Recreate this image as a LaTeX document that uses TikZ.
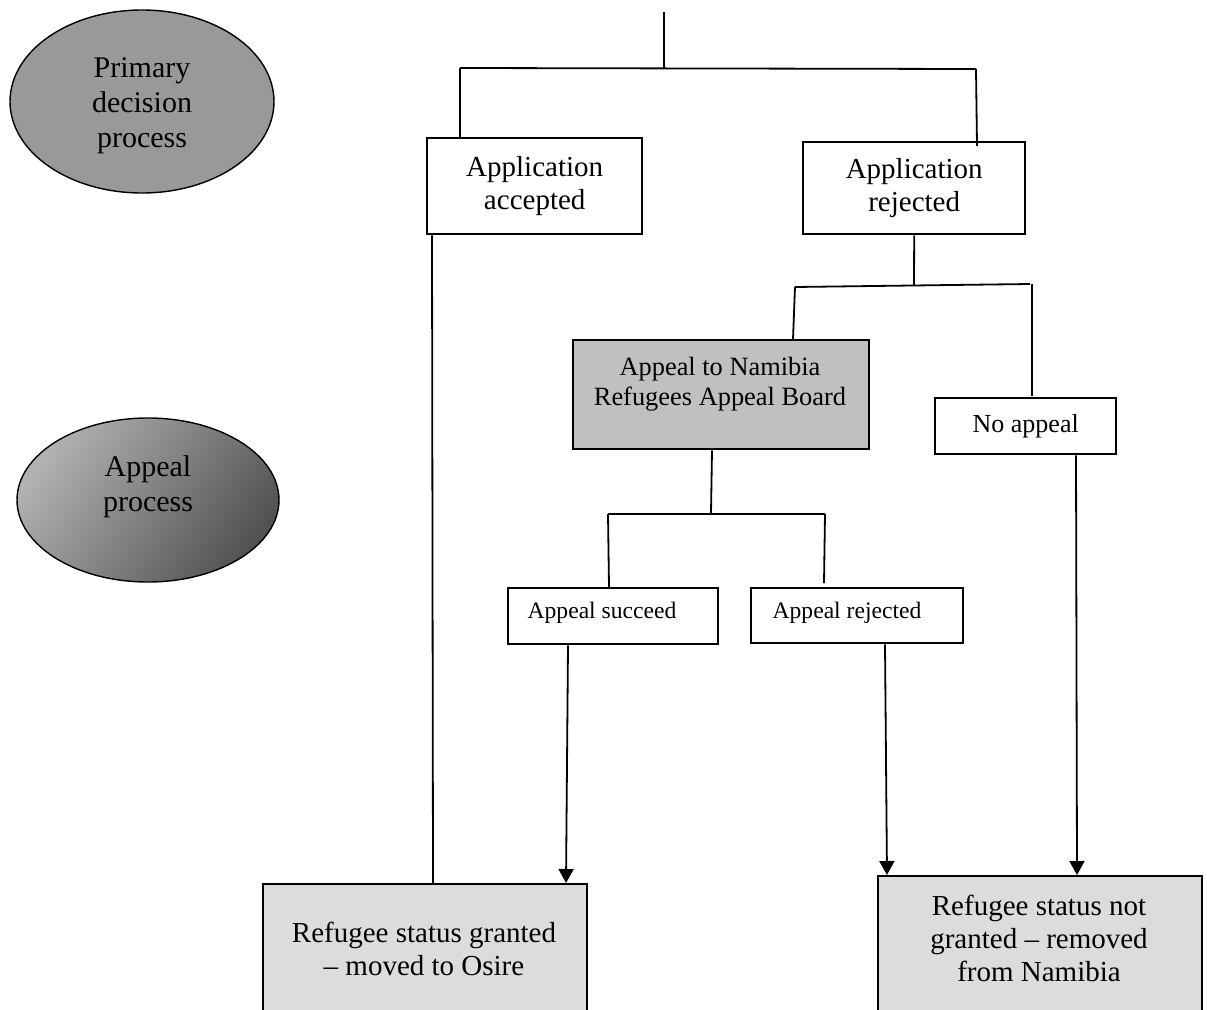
\documentclass[tikz,border=0pt]{standalone}
\usepackage{fontspec}
\setmainfont{Liberation Serif}
\usetikzlibrary{arrows.meta,shapes.geometric}
\definecolor{ovalgray}{HTML}{999999}
\definecolor{ovallight}{HTML}{B2B2B2}
\definecolor{ovaldark}{HTML}{525252}
\definecolor{boardgray}{HTML}{C0C0C0}
\definecolor{resgray}{HTML}{DCDCDC}
\begin{document}
\begin{tikzpicture}[x=1pt,y=-1pt,
  line/.style={line width=1.8pt},
  arr/.style={line width=1.8pt,-{Triangle[length=14pt,width=15pt]}},
  box/.style={draw,line width=2.4pt,inner sep=0pt,anchor=north west,align=center},
  oval/.style={draw,ellipse,line width=1.4pt,inner sep=0pt},
  txt/.style={align=center,inner sep=0pt},
  ovalfont/.style={font=\fontsize{30}{35}\selectfont},
  bigfont/.style={font=\fontsize{29}{33}\selectfont},
  midfont/.style={font=\fontsize{26.4}{30}\selectfont},
  noafont/.style={font=\fontsize{26}{30}\selectfont},
  smallfont/.style={font=\fontsize{23.6}{28}\selectfont}
]
\useasboundingbox (0,0) rectangle (1207,1009);
\clip (0,0) rectangle (1207,1009);

% ovals
\node[oval,fill=ovalgray,minimum width=264pt,minimum height=183pt] (e1) at (142,101.5) {};
\node[txt,ovalfont] (e1t) at (142,106) {Primary\\decision\\process};
\node[oval,top color=ovallight,bottom color=ovaldark,shading angle=55,minimum width=262pt,minimum height=164pt] (e2) at (148,500) {};
\node[txt,ovalfont] (e2t) at (148,487) {Appeal\\process};

% boxes
\node[box,bigfont,minimum width=215pt,minimum height=96pt] (acc) at (426,137) {Application\\accepted};
\node[box,bigfont,minimum width=222pt,minimum height=92pt] (rej) at (802,141) {Application\\rejected};
\node[box,fill=boardgray,minimum width=296pt,minimum height=109pt] (apb) at (572,339) {};
\node[txt,midfont] (apbt) at (720,384) {Appeal to Namibia\\Refugees Appeal Board};
\node[box,noafont,minimum width=181pt,minimum height=56pt] (noa) at (934,397) {No appeal};
\node[box,minimum width=210pt,minimum height=56pt] (suc) at (507,587) {};
\node[txt,smallfont] (suct) at (602,613) {Appeal succeed};
\node[box,minimum width=212pt,minimum height=55pt] (arj) at (750,587) {};
\node[txt,smallfont] (arjt) at (847,613) {Appeal rejected};
\node[box,fill=resgray,minimum width=324pt,minimum height=140pt] (gr) at (262,883) {};
\node[txt,bigfont] (grt) at (424,949) {Refugee status granted\\\textendash{} moved to Osire};
\node[box,fill=resgray,minimum width=324pt,minimum height=150pt] (ng) at (877,875) {};
\node[txt,bigfont] (ngt) at (1039,938) {Refugee status not\\granted \textendash{} removed\\from Namibia};

% top tree
\coordinate (t0) at (664,12);
\coordinate (t1) at (664,69);
\coordinate (tL) at (460,68);
\coordinate (tR) at (976,69);
\coordinate (tRe) at (977,146);
\draw[line] (t0) -- (t1);
\draw[line] (tL) -- (tR);
\draw[line] (tL) -- (tL |- acc.north);
\draw[line] (tR) -- (tRe);

% accepted to granted
\draw[line] ([xshift=6pt]acc.south west) -- ([xshift=171pt]gr.north west);

% rejected tree
\coordinate (r1) at (914,286);
\coordinate (rL) at (795,287);
\coordinate (rR) at (1030,284);
\draw[line] (rej.south) -- (r1);
\draw[line] (rL) -- (rR);
\draw[line] (rL) -- ([xshift=221pt]apb.north west);
\draw[line] ([xshift=2pt]rR) -- ([xshift=98pt,yshift=1pt]noa.north west);

% appeal board tree
\coordinate (a1) at (711,513);
\coordinate (aL) at (608,514);
\coordinate (aR) at (825,514);
\coordinate (aRe) at (824,583);
\draw[line] ([xshift=140pt]apb.south west) -- (a1);
\draw[line] (aL) -- (aR);
\draw[line] (aL) -- ([xshift=102pt]suc.north west);
\draw[line] (aR) -- (aRe);

% arrows
\draw[arr] ([xshift=61pt]suc.south west) -- ([xshift=304pt]gr.north west);
\draw[arr] ([xshift=135pt]arj.south west) -- ([xshift=10pt]ng.north west);
\draw[arr] ([xshift=142pt]noa.south west) -- ([xshift=200pt]ng.north west);
\end{tikzpicture}
\end{document}
